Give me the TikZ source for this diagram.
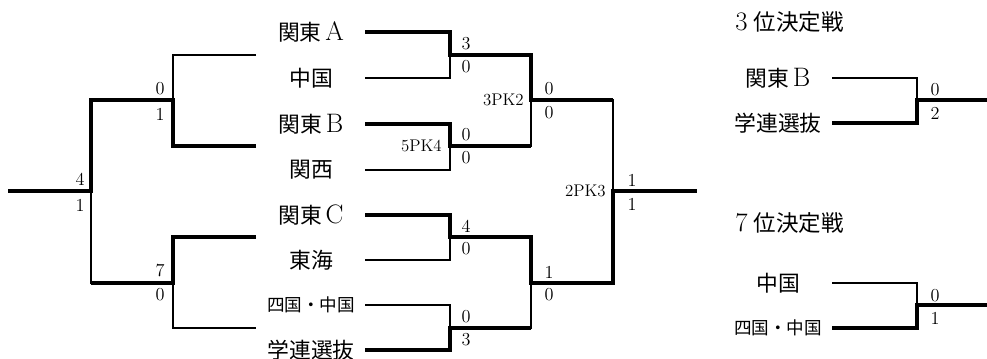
\documentclass[tikz,border=0pt]{standalone}
\usepackage{fontspec}
\newfontfamily\jp{Noto Sans CJK JP}
\newcommand\lat[1]{{\rmfamily\fontsize{19}{19}\selectfont #1}}
\usetikzlibrary{calc}

\begin{document}
\begin{tikzpicture}[x=0.025cm,y=-0.025cm,
  team/.style={font={\jp\fontsize{15.5}{16}\selectfont}, minimum width=2.7cm, inner sep=0pt},
  smallteam/.style={team, font={\jp\fontsize{12.5}{13}\selectfont}},
  title/.style={anchor=west, inner sep=0pt, font={\jp\fontsize{16}{16}\selectfont}},
  score/.style={inner sep=0pt, font=\fontsize{13}{13}\selectfont},
  pk/.style={anchor=east, inner sep=0pt, font=\fontsize{12}{12}\selectfont},
  lose/.style={line width=0.9pt},
  win/.style={line width=2.8pt}]
\useasboundingbox (0,0) rectangle (987,359);

\node[team] (n1) at (311,32) {関東\,\lat{A}};
\node[team] (n2) at (311,78) {中国};
\node[team] (n3) at (311,124) {関東\,\lat{B}};
\node[team] (n4) at (311,170) {関西};
\node[team] (n5) at (311,215) {関東\,\lat{C}};
\node[team] (n6) at (311,260) {東海};
\node[smallteam] (n7) at (311,305) {四国・中国};
\node[team] (n8) at (311,350) {学連選抜};

\coordinate (j1) at (450,55);
\coordinate (j2) at (450,146);
\coordinate (j3) at (450,237);
\coordinate (j4) at (450,328);
\coordinate (s1) at (531,100);
\coordinate (s2) at (531,283);
\coordinate (f) at (613,191);
\coordinate (e) at (697,191);

\draw[lose] (n1.east) -| (j1) |- (n2.east);
\draw[lose] (n3.east) -| (j2) |- (n4.east);
\draw[lose] (n5.east) -| (j3) |- (n6.east);
\draw[lose] (n7.east) -| (j4) |- (n8.east);
\draw[lose] (j1) -| (s1) |- (j2);
\draw[lose] (j3) -| (s2) |- (j4);
\draw[lose] (s1) -| (f) |- (s2);
\draw[win] (n1.east) -| (j1) -| (s1) -- (s1 -| f);
\draw[win] (n3.east) -| (j2) -- (j2 -| s1);
\draw[win] (n5.east) -| (j3) -| (s2) -| (f) -- (e);
\draw[win] (n8.east) -| (j4) -- (j4 -| s2);

\coordinate (l1) at (256,55);
\coordinate (l2) at (256,146);
\coordinate (l3) at (256,237);
\coordinate (l4) at (256,328);
\coordinate (c1) at (173,100);
\coordinate (c2) at (173,283);
\coordinate (c0) at (91,191);
\coordinate (o) at (8,191);

\draw[lose] (l1) -| (c1) |- (l2);
\draw[lose] (l3) -| (c2) |- (l4);
\draw[lose] (c1) -| (c0) |- (c2);
\draw[win] (l2) -| (c1) -| (c0) -- (o);
\draw[win] (l3) -| (c2) -- (c2 -| c0);

\node[score] (a1) at (466,44) {3};
\node[score] (a2) at (466,67) {0};
\node[score] (b1) at (466,135) {0};
\node[score] (b2) at (466,158) {0};
\node[score] (c1s) at (466,226) {4};
\node[score] (c2s) at (466,249) {0};
\node[score] (d1) at (466,317) {0};
\node[score] (d2) at (466,340) {3};
\node[score] (e1) at (549,89) {0};
\node[score] (e2) at (549,113) {0};
\node[score] (g1) at (549,272) {1};
\node[score] (g2) at (549,295) {0};
\node[score] (h1) at (632,180) {1};
\node[score] (h2) at (632,204) {1};
\node[score] (u1) at (80,179) {4};
\node[score] (u2) at (80,205) {1};
\node[score] (v1) at (160,89) {0};
\node[score] (v2) at (160,114) {1};
\node[score] (w1) at (160,271) {7};
\node[score] (w2) at (160,295) {0};
\node[pk] (pk1) at (442,146) {5PK4};
\node[pk] (pk2) at (524,100) {3PK2};
\node[pk] (pk3) at (606,191) {2PK3};

\node[title] (t3) at (735,22) {\lat{3}\;位決定戦};
\node[team] (p1) at (778,78) {関東\,\lat{B}};
\node[team] (p2) at (778,123) {学連選抜};
\coordinate (q1) at (917,100);
\coordinate (r1) at (987,100);
\draw[lose] (p1.east) -| (q1) |- (p2.east);
\draw[win] (p2.east) -| (q1) -- (r1);
\node[score] (x1) at (935,90) {0};
\node[score] (x2) at (935,113) {2};

\node[title] (t7) at (735,223) {\lat{7}\;位決定戦};
\node[team] (p3) at (778,283) {中国};
\node[smallteam] (p4) at (778,328) {四国・中国};
\coordinate (q2) at (917,305);
\coordinate (r2) at (987,305);
\draw[lose] (p3.east) -| (q2) |- (p4.east);
\draw[win] (p4.east) -| (q2) -- (r2);
\node[score] (y1) at (935,296) {0};
\node[score] (y2) at (935,318) {1};
\end{tikzpicture}
\end{document}
